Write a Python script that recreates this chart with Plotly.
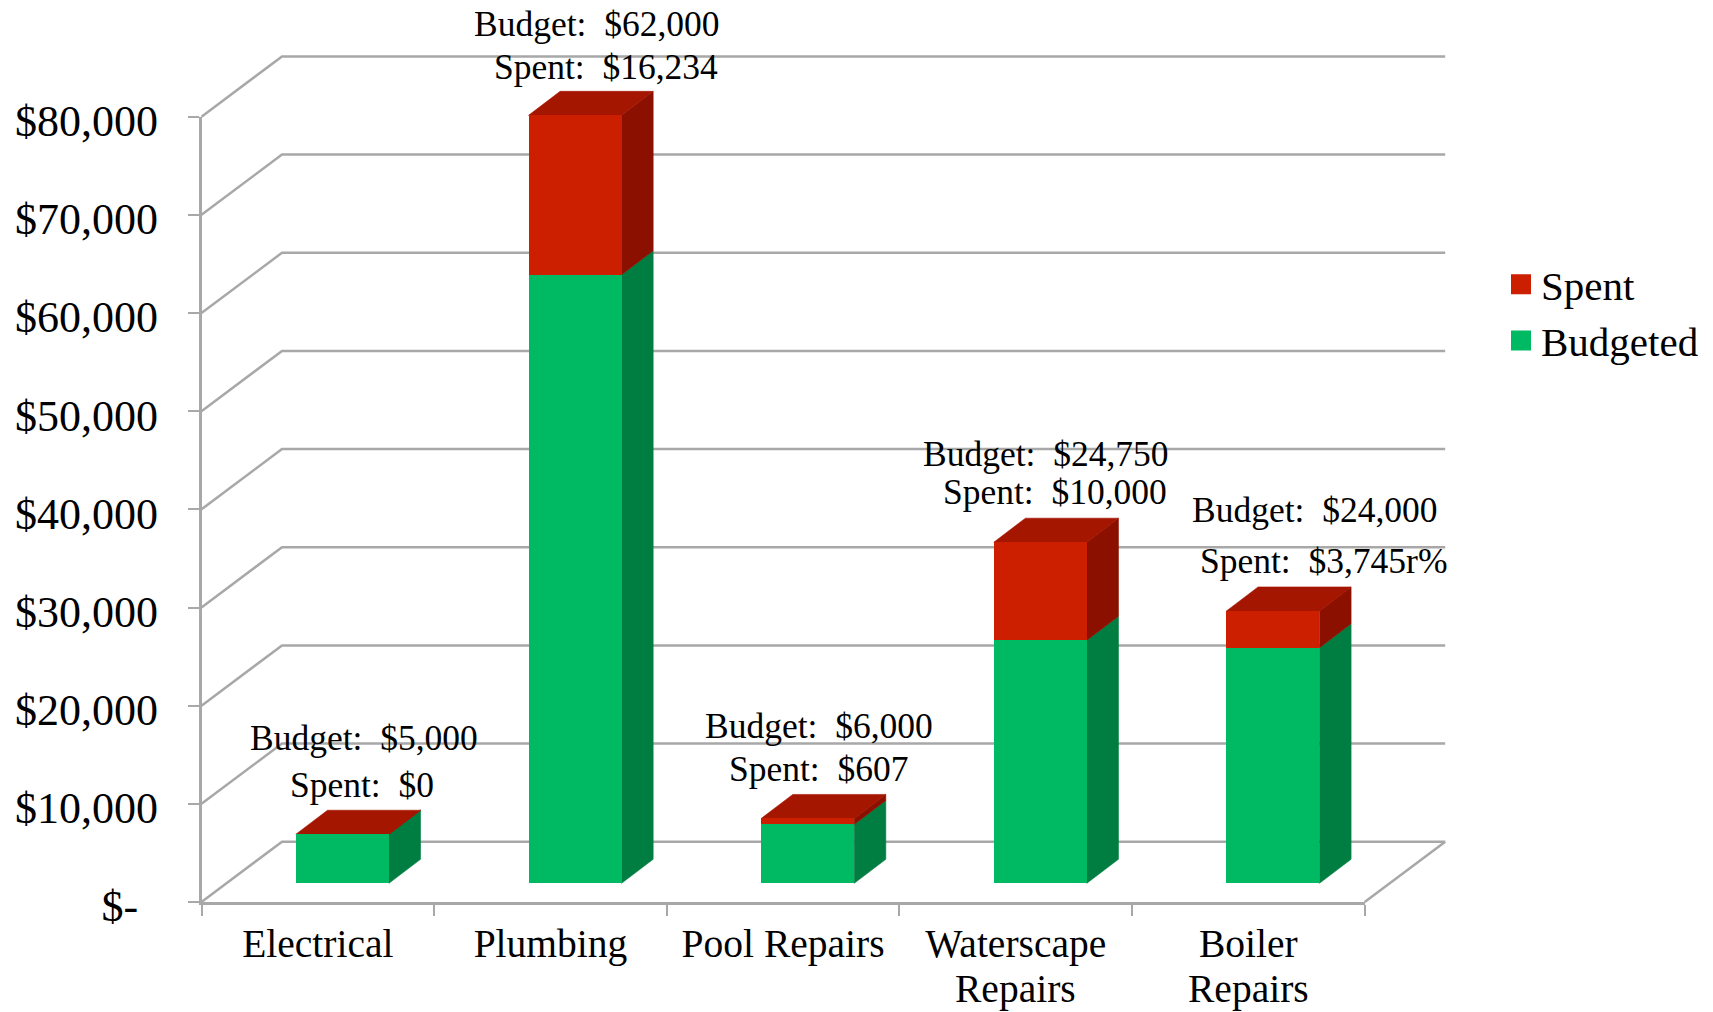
import plotly.graph_objects as go

category_line1 = ["Electrical", "Plumbing", "Pool Repairs", "Waterscape", "Boiler"]
category_line2 = ["", "", "", "Repairs", "Repairs"]
budgeted = [5000, 62000, 6000, 24750, 24000]
spent = [0, 16234, 607, 10000, 3745]
label_suffix = ["", "", "", "", "r%"]
y_ticks = [0, 10000, 20000, 30000, 40000, 50000, 60000, 70000, 80000]
y_tick_labels = ["$-\u00a0\u2009", "$10,000", "$20,000", "$30,000", "$40,000",
                 "$50,000", "$60,000", "$70,000", "$80,000"]

# ---- page geometry (pixels) ----
W, H = 1713, 1012
X0, X1 = 201.5, 1364.7        # front plane, left and right
Y0, Y80 = 902.0, 116.7        # front plane, $0 and $80,000
WALL_DX, WALL_DY = 80.5, 60.3  # front plane -> back wall
BAR_DX, BAR_DY = 24.6, 18.7    # front plane -> bar front
DEPTH_DX, DEPTH_DY = 31.6, 24.0  # bar front -> bar back
BAR_W = 93.0

n = len(category_line1)
ux = (X1 - X0) / n                 # px per category
uy = (Y0 - Y80) / 80000            # px per dollar

GRID = "#a8a8a8"
GREEN, GREEN_SIDE = "#00BA63", "#007E41"
RED, RED_SIDE, RED_TOP = "#CC1F00", "#8B1000", "#A51600"
FONT = "Liberation Serif"

fig = go.Figure()

# full-page helper axes, measured in categories and dollars
full_x = [(0 - X0) / ux, (W - X0) / ux]
full_y = [(Y0 - H) / uy, Y0 / uy]

wall_dx, wall_dy = WALL_DX / ux, WALL_DY / uy

# grid: diagonal on the side wall, then across the back wall
gxs, gys = [], []
for t in y_ticks:
    gxs += [0, wall_dx, n + wall_dx, None]
    gys += [t, t + wall_dy, t + wall_dy, None]
gxs += [n, n + wall_dx, None]
gys += [0, wall_dy, None]
fig.add_trace(go.Scatter(x=gxs, y=gys, xaxis="x2", yaxis="y2", mode="lines",
                         line=dict(color=GRID, width=2.5), showlegend=False, hoverinfo="skip"))

# bar side and top faces
off_x, off_y = BAR_DX / ux, BAR_DY / uy
dep_x, dep_y = DEPTH_DX / ux, DEPTH_DY / uy
half = BAR_W / ux / 2

def side_face(y_low, y_high):
    xs, ys = [], []
    for i in range(n):
        r = i + 0.5 + off_x + half
        xs += [r, r + dep_x, r + dep_x, r, r, None]
        ys += [off_y + y_low[i], off_y + y_low[i] + dep_y, off_y + y_high[i] + dep_y,
               off_y + y_high[i], off_y + y_low[i], None]
    return xs, ys

totals = [b + s for b, s in zip(budgeted, spent)]
for low, high, col in [([0] * n, budgeted, GREEN_SIDE), (budgeted, totals, RED_SIDE)]:
    xs, ys = side_face(low, high)
    fig.add_trace(go.Scatter(x=xs, y=ys, xaxis="x2", yaxis="y2", mode="lines", fill="toself",
                             fillcolor=col, line=dict(width=0.6, color=col),
                             showlegend=False, hoverinfo="skip"))

xs, ys = [], []
for i in range(n):
    l = i + 0.5 + off_x - half
    r = i + 0.5 + off_x + half
    t = off_y + totals[i]
    xs += [l, r, r + dep_x, l + dep_x, l, None]
    ys += [t, t, t + dep_y, t + dep_y, t, None]
fig.add_trace(go.Scatter(x=xs, y=ys, xaxis="x2", yaxis="y2", mode="lines", fill="toself",
                         fillcolor=RED_TOP, line=dict(width=0.6, color=RED_TOP),
                         showlegend=False, hoverinfo="skip"))

# bar fronts on axes shifted into the floor
fig.add_trace(go.Bar(x=category_line1, y=budgeted, name="Budgeted", xaxis="x3", yaxis="y3",
                     marker=dict(color=GREEN, line=dict(width=0)), width=BAR_W / ux, showlegend=False))
fig.add_trace(go.Bar(x=category_line1, y=spent, name="Spent", xaxis="x3", yaxis="y3",
                     marker=dict(color=RED, line=dict(width=0)), width=BAR_W / ux, showlegend=False))

# legend entries and the visible axes
for name, col in [("Spent", RED), ("Budgeted", GREEN)]:
    fig.add_trace(go.Scatter(x=[category_line1[0]], y=[None], name=name, mode="markers",
                             marker=dict(symbol="square", size=16, color=col,
                                         line=dict(width=4, color=col))))

# labels: centre of each text line on the page
label_pos = [((364, 738), (362, 785)), ((597, 24), (606, 67)), ((819, 726), (818, 769)),
             ((1046, 454), (1055, 492)), ((1315, 510), (1324, 561))]
for i in range(n):
    lines = [f"Budget:\u00a0\u00a0${budgeted[i]:,}", f"Spent:\u00a0\u00a0${spent[i]:,}{label_suffix[i]}"]
    for text, (px, py) in zip(lines, label_pos[i]):
        fig.add_annotation(text=text, x=px / W, y=1 - py / H, xref="paper", yref="paper",
                           showarrow=False, xanchor="center", yanchor="middle",
                           font=dict(family=FONT, size=35.5, color="black"))
    if category_line2[i]:
        fig.add_annotation(text=category_line2[i], x=category_line1[i], y=1 - 989 / H,
                           xref="x", yref="paper", showarrow=False,
                           xanchor="center", yanchor="middle",
                           font=dict(family=FONT, size=39.5, color="black"))

hidden = dict(visible=False, fixedrange=True, automargin=False)
fig.update_layout(
    template="none",
    width=W, height=H, autosize=False,
    margin=dict(l=0, r=0, t=0, b=0, pad=0, autoexpand=False),
    paper_bgcolor="white", plot_bgcolor="rgba(0,0,0,0)",
    barmode="stack",
    font=dict(family=FONT, size=40, color="black"),
    legend=dict(x=1501 / W, y=1 - 251 / H, xanchor="left", yanchor="top",
                bgcolor="rgba(0,0,0,0)", font=dict(family=FONT, size=41),
                itemwidth=30, tracegroupgap=0, traceorder="normal"),
    xaxis=dict(domain=[X0 / W, X1 / W], anchor="y", type="category", automargin=False,
               categoryorder="array", categoryarray=category_line1, range=[-0.5, n - 0.5], tickson="boundaries",
               showgrid=False, zeroline=False, showline=True, linecolor=GRID, linewidth=2.5,
               ticks="outside", ticklen=11, tickwidth=2, tickcolor=GRID, ticklabelstandoff=5,
               tickfont=dict(family=FONT, size=39.5, color="black"), tickangle=0),
    yaxis=dict(domain=[(H - Y0) / H, (H - Y80) / H], anchor="x", range=[0, 80000], automargin=False,
               tickmode="array", tickvals=y_ticks, ticktext=y_tick_labels,
               showgrid=False, zeroline=False, showline=True, linecolor=GRID, linewidth=2.5,
               ticks="outside", ticklen=11, tickwidth=2, tickcolor=GRID,
               ticklabelstandoff=21, ticklabelshift=4,
               tickfont=dict(family=FONT, size=44, color="black")),
    xaxis2=dict(domain=[0, 1], range=full_x, anchor="y2", **hidden),
    yaxis2=dict(domain=[0, 1], range=full_y, anchor="x2", **hidden),
    xaxis3=dict(domain=[(X0 + BAR_DX) / W, (X1 + BAR_DX) / W], anchor="y3", type="category",
                categoryorder="array", categoryarray=category_line1, range=[-0.5, n - 0.5], **hidden),
    yaxis3=dict(domain=[(H - Y0 + BAR_DY) / H, (H - Y80 + BAR_DY) / H], anchor="x3",
                range=[0, 80000], **hidden),
)

fig.write_html("out.html", config=dict(displayModeBar=False),
               post_script="document.body.style.margin='0';document.body.style.overflow='hidden';")
